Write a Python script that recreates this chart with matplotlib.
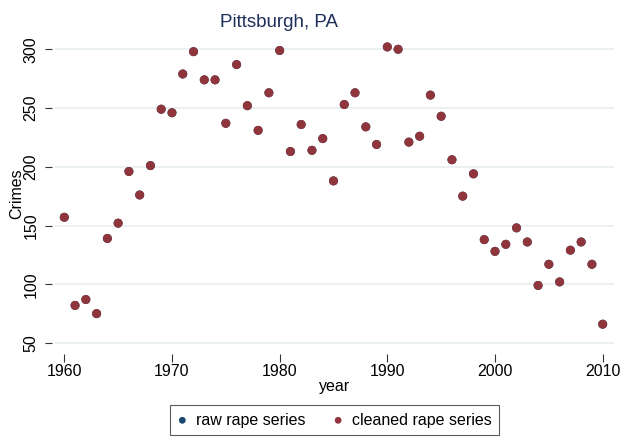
import matplotlib
matplotlib.use("Agg")
import matplotlib.pyplot as plt
from matplotlib import rcParams

rcParams.update({
    "font.family": ["Liberation Sans", "DejaVu Sans"],
    "font.size": 11.5,
})

# ---- data ----
years = list(range(1960, 2011))
raw_rape = [157, 82, 87, 75, 139, 152, 196, 176, 201, 249,
            246, 279, 298, 274, 274, 237, 287, 252, 231, 263,
            299, 213, 236, 214, 224, 188, 253, 263, 234, 219,
            302, 300, 221, 226, 261, 243, 206, 175, 194, 138,
            128, 134, 148, 136, 99, 117, 102, 129, 136, 117,
            66]
cleaned_rape = list(raw_rape)
yticks = [50, 100, 150, 200, 250, 300]
xticks = [1960, 1970, 1980, 1990, 2000, 2010]

NAVY = "#1a476f"
MAROON = "#90353b"
GRID = "#e6eef0"

W, H = 625, 437
fig = plt.figure(figsize=(W / 100, H / 100), dpi=100)
# axes box in pixel coords
left, right, top, bottom = 55, 614, 36, 351
ax = fig.add_axes([left / W, 1 - bottom / H, (right - left) / W, (bottom - top) / H])

ax.scatter(years, raw_rape, s=42, color=NAVY, edgecolors="none", zorder=3,
           label="raw rape series")
ax.scatter(years, cleaned_rape, s=42, color=MAROON, edgecolors="none", zorder=4,
           label="cleaned rape series")

# pixel -> data mapping: 1960 at x=64.3, 2010 at x=602.7; 300 at y=49.3, 50 at y=343
x0, ppy = 64.3, (602.7 - 64.3) / 50
ax.set_xlim(1960 - (x0 - left) / ppy, 1960 + (right - x0) / ppy)
ppu = (343 - 49.3) / 250
ax.set_ylim(50 - (bottom - 343) / ppu, 300 + (49.3 - top) / ppu)

ax.set_xticks(xticks)
ax.set_yticks(yticks)
ax.grid(True, axis="y", color=GRID, linewidth=1.1)
ax.set_axisbelow(True)
for sp in ax.spines.values():
    sp.set_visible(False)
ax.spines["left"].set_position(("outward", 2))
ax.spines["bottom"].set_position(("outward", 2))
ax.tick_params(axis="y", length=5, width=0.8, color="#333333", pad=5,
               labelrotation=90)
ax.tick_params(axis="x", length=6, width=0.8, color="#333333", pad=1.5)
for lab in ax.get_yticklabels():
    lab.set_va("center")

ax.xaxis.set_label_coords(0.5, -(386 - bottom) / (bottom - top))
ax.set_xlabel("year", va="center")
ax.yaxis.set_label_coords((16.5 - left) / (right - left), 0.5)
ax.set_ylabel("Crimes", va="center")

fig.text(279.5 / W, 1 - 27 / H, "Pittsburgh, PA", ha="center", va="baseline",
         fontsize=13.5, color="#1f2f5c")

leg = fig.legend(loc="center", bbox_to_anchor=(334.5 / W, 1 - 420 / H), ncol=2,
                 frameon=True, fancybox=False, edgecolor="#333333",
                 markerscale=0.75, handletextpad=0.55, columnspacing=1.75,
                 handlelength=0.6, borderpad=0.45, borderaxespad=0)
leg.get_frame().set_linewidth(0.8)

fig.savefig("out.png", dpi=100)
